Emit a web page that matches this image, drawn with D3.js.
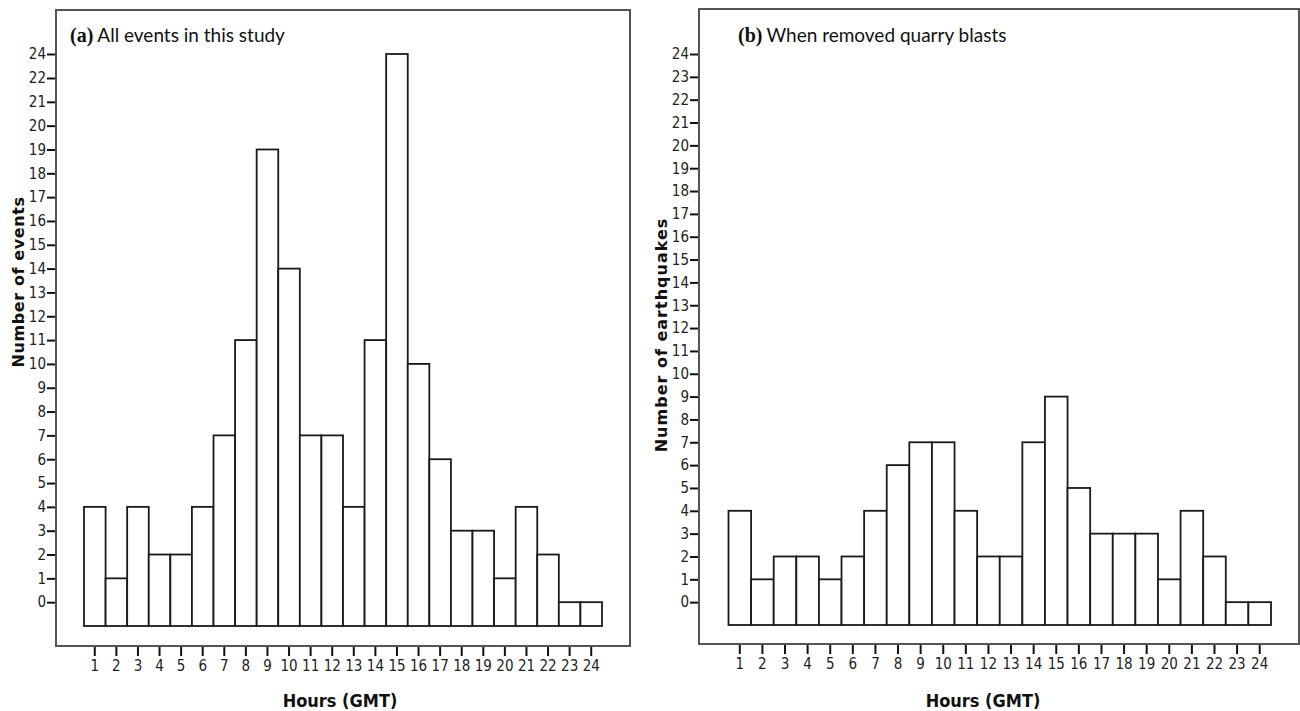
<!DOCTYPE html>
<html>
<head>
<meta charset="utf-8">
<script src="https://cdn.jsdelivr.net/npm/d3@7/dist/d3.min.js"></script>
<style>
  body { margin: 0; background: #fff; }
  .tick text { font-family: "Liberation Sans Narrow", "DejaVu Sans Condensed", sans-serif; font-size: 15px; fill: #222; }
  .tick line { stroke: #111; stroke-width: 2; }
</style>
</head>
<body>
<svg id="chart" width="1300" height="711"></svg>
<script>
"use strict";

// hours of the day (GMT)
const hours = ['1','2','3','4','5','6','7','8','9','10','11','12',
  '13','14','15','16','17','18','19','20','21','22','23','24'];

// (a) all events
const allEvents = [4, 1, 4, 2, 2, 4, 7, 11, 19, 14, 7, 7, 4, 11, 24, 10, 6, 3, 3, 1, 4, 2, 0, 0];
// (b) earthquakes only (quarry blasts removed)
const earthquakes = [4, 1, 2, 2, 1, 2, 4, 6, 7, 7, 4, 2, 2, 7, 9, 5, 3, 3, 3, 1, 4, 2, 0, 0];

// y tick labels, panel (a) skips 23 in the original
const ticksA = [0,1,2,3,4,5,6,7,8,9,10,11,12,13,14,15,16,17,18,19,20,21,22,24];
const ticksB = [0,1,2,3,4,5,6,7,8,9,10,11,12,13,14,15,16,17,18,19,20,21,22,23,24];

const svg = d3.select('#chart');

const panels = [
  {
    tag: '(a)', title: 'All events in this study', ytitle: 'Number of events',
    values: allEvents, ticks: ticksA,
    frame: {x0: 56, y0: 10, x1: 630, y1: 646},
    xr: [84, 602],
    // label 24 sits one step above 22
    ydom: [-1, 22, 24], yr: [626, 78, 54],
    titleX: 70, ytitleX: 24, ytitleY: 282, ls: 0.6, xtitleX: 340
  },
  {
    tag: '(b)', title: 'When removed quarry blasts', ytitle: 'Number of earthquakes',
    values: earthquakes, ticks: ticksB,
    frame: {x0: 699, y0: 9, x1: 1299, y1: 644},
    xr: [728.5, 1271],
    ydom: [-1, 24], yr: [625, 54],
    titleX: 738, ytitleX: 667, ytitleY: 335, ls: 1, xtitleX: 983
  }
];

panels.forEach(p => drawPanel(p));

function drawPanel(p) {
  const g = svg.append('g');
  const f = p.frame;

  const x = d3.scaleBand().domain(hours).range(p.xr).padding(0);
  const y = d3.scaleLinear().domain(p.ydom).range(p.yr);

  // bars, drawn from one step below zero like the original
  g.append('g').selectAll('rect')
    .data(p.values)
    .join('rect')
    .attr('x', (d, i) => x(hours[i]))
    .attr('width', x.bandwidth())
    .attr('y', d => y(d))
    .attr('height', d => y(-1) - y(d))
    .attr('fill', '#fff')
    .attr('stroke', '#1a1a1a')
    .attr('stroke-width', 1.8);

  // frame
  g.append('rect')
    .attr('x', f.x0).attr('y', f.y0)
    .attr('width', f.x1 - f.x0).attr('height', f.y1 - f.y0)
    .attr('fill', 'none')
    .attr('stroke', '#555')
    .attr('stroke-width', 2);

  // axes
  const ya = g.append('g')
    .attr('transform', `translate(${f.x0 - 1},0)`)
    .call(d3.axisLeft(y).tickValues(p.ticks).tickSize(8).tickPadding(1).tickFormat(d3.format('d')));
  ya.select('.domain').remove();

  const xa = g.append('g')
    .attr('transform', `translate(0,${f.y1 + 1})`)
    .call(d3.axisBottom(x).tickSize(9).tickPadding(4));
  xa.select('.domain').remove();

  // panel title
  const t = g.append('text')
    .attr('x', p.titleX).attr('y', 42)
    .attr('fill', '#111');
  t.append('tspan')
    .attr('font-family', '"Liberation Serif", "DejaVu Serif", serif')
    .attr('font-weight', 'bold')
    .attr('font-size', 20)
    .text(p.tag);
  t.append('tspan')
    .attr('font-family', 'Lato, "Open Sans", sans-serif')
    .attr('font-size', 19)
    .attr('dx', 4)
    .text(p.title);

  // y axis title
  g.append('text')
    .attr('transform', `translate(${p.ytitleX},${p.ytitleY}) rotate(-90)`)
    .attr('text-anchor', 'middle')
    .attr('font-family', '"DejaVu Sans", sans-serif')
    .attr('font-weight', 'bold')
    .attr('font-size', 16)
    .attr('letter-spacing', p.ls)
    .attr('fill', '#111')
    .text(p.ytitle);

  // x axis title
  g.append('text')
    .attr('x', p.xtitleX).attr('y', 707)
    .attr('text-anchor', 'middle')
    .attr('font-family', '"Liberation Sans Narrow", "DejaVu Sans Condensed", sans-serif')
    .attr('font-weight', 'bold')
    .attr('font-size', 18)
    .attr('fill', '#111')
    .text('Hours (GMT)');
}
</script>
</body>
</html>
